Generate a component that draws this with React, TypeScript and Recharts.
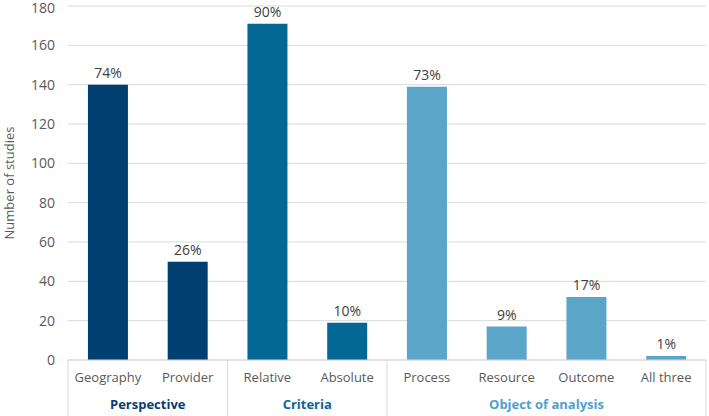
import { Bar, BarChart, CartesianGrid, Cell, LabelList, XAxis, YAxis, Label } from "recharts"

const categories = ["Geography", "Provider", "Relative", "Absolute", "Process", "Resource", "Outcome", "All three"]
const studies = [140, 50, 171, 19, 139, 17, 32, 2]
const shares = ["74%", "26%", "90%", "10%", "73%", "9%", "17%", "1%"]
const groupOf = [0, 0, 1, 1, 2, 2, 2, 2]
const groupNames = ["Perspective", "Criteria", "Object of analysis"]
const yTicks = [0, 20, 40, 60, 80, 100, 120, 140, 160, 180]

const barColors = ["#023f71", "#036893", "#5ba5c8"]
const groupColors = ["#0b3b6e", "#0e6493", "#4ea1ca"]
const font = "'Open Sans', sans-serif"

const data = categories.map((name, i) => ({
  name,
  studies: studies[i],
  share: shares[i],
  group: groupOf[i],
}))

const WIDTH = 709
const HEIGHT = 416
const LEFT = 68
const RIGHT = 3
const BAND = (WIDTH - LEFT - RIGHT) / categories.length

function GroupTick(props: any) {
  const { x, y, payload } = props
  const i = payload.index
  const g = groupOf[i]
  const isStart = i === 0 || groupOf[i - 1] !== g
  const isLast = i === categories.length - 1
  const count = groupOf.filter((v) => v === g).length
  const left = x - BAND / 2
  return (
    <g>
      <text x={x} y={y + 14} textAnchor="middle" fill="#595959" fontSize={13} fontFamily={font}>
        {payload.value}
      </text>
      {isStart && <line x1={left} x2={left} y1={y - 8} y2={y + 60} stroke="#d9d9d9" />}
      {isLast && <line x1={x + BAND / 2} x2={x + BAND / 2} y1={y - 8} y2={y + 60} stroke="#d9d9d9" />}
      {isStart && (
        <text
          x={left + (count * BAND) / 2}
          y={y + 41}
          textAnchor="middle"
          fill={groupColors[g]}
          fontSize={13}
          fontWeight="bold"
          fontFamily={font}
        >
          {groupNames[g]}
        </text>
      )}
    </g>
  )
}

export default function App() {
  return (
    <div style={{ position: "absolute", left: 0, top: 0, background: "#fff" }}>
      <BarChart
        width={WIDTH}
        height={HEIGHT}
        data={data}
        margin={{ top: 6, right: RIGHT, bottom: 0, left: 0 }}
        barCategoryGap="25%"
      >
        <CartesianGrid vertical={false} stroke="#d9d9d9" />
        <XAxis
          dataKey="name"
          height={56}
          tickLine={false}
          axisLine={{ stroke: "#d9d9d9" }}
          interval={0}
          tick={<GroupTick />}
        />
        <YAxis
          width={LEFT}
          domain={[0, 180]}
          ticks={yTicks}
          tickLine={false}
          axisLine={false}
          tickMargin={7}
          tick={{ fill: "#595959", fontSize: 14, fontFamily: font }}
        >
          <Label
            content={(p: any) => {
              const vb = p.viewBox
              const cy = vb.y + vb.height / 2
              return (
                <text
                  x={9}
                  y={cy}
                  transform={`rotate(-90, 9, ${cy})`}
                  textAnchor="middle"
                  dominantBaseline="central"
                  fill="#595959"
                  fontSize={13}
                  fontFamily={font}
                >
                  Number of studies
                </text>
              )
            }}
          />
        </YAxis>
        <Bar dataKey="studies" isAnimationActive={false}>
          {data.map((d) => (
            <Cell key={d.name} fill={barColors[d.group]} />
          ))}
          <LabelList dataKey="share" position="top" offset={7} fill="#404040" fontSize={14} fontFamily={font} />
        </Bar>
      </BarChart>
    </div>
  )
}
